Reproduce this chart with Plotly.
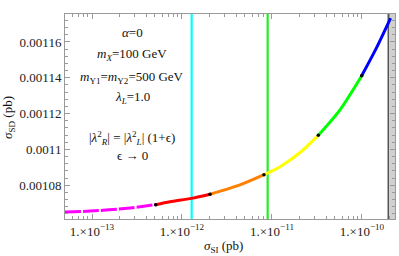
import plotly.graph_objects as go

# ---- data ----
sigma_si = [5.0e-14, 9.5e-14, 2.45e-13, 5.1e-13, 7.36e-13, 1.28e-12, 2.05e-12,
            4.41e-12, 8.15e-12, 1.23e-11, 2.05e-11, 3.27e-11, 5.7e-11, 9.93e-11,
            1.43e-10, 2.08e-10]
sigma_sd = [0.0010651, 0.0010656, 0.0010672, 0.0010692, 0.0010708, 0.0010727,
            0.0010750, 0.0010802, 0.0010859, 0.0010904, 0.0010983, 0.0011079,
            0.0011221, 0.0011411, 0.0011561, 0.0011733]
# segment boundaries (indices into the arrays) and colours
seg_bounds = [0, 3, 6, 8, 11, 13, 15]
seg_colors = ["#FF00FF", "#FF0000", "#FF8000", "#FFFF00", "#00FF00", "#0000FF"]
dot_idx = [3, 6, 8, 11, 13]

cyan_line_x = 1.28e-12
green_line_x = 8.95e-12
excluded_from = 1.96e-10
excluded_to = 1e-9

x_tickvals = [1e-13, 1e-12, 1e-11, 1e-10]
x_ticktext = ["1.×10<sup>−13</sup>", "1.×10<sup>−12</sup>", "1.×10<sup>−11</sup>", "1.×10<sup>−10</sup>"]
y_tickvals = [0.00108, 0.0011, 0.00112, 0.00114, 0.00116]
y_ticktext = ["0.00108", "0.0011", "0.00112", "0.00114", "0.00116"]

x_range_log = [-13.3, -9.633]
y_range = [0.0010612, 0.0011756]

FONT = "Liberation Serif, Times New Roman, serif"
FRAME = "#9a9a9a"

fig = go.Figure()

# excluded region (gray band)
fig.add_trace(go.Scatter(
    x=[excluded_from, excluded_to, excluded_to, excluded_from, excluded_from],
    y=[y_range[0] - 1e-5, y_range[0] - 1e-5, y_range[1] + 1e-5, y_range[1] + 1e-5, y_range[0] - 1e-5],
    fill="toself", fillcolor="#d0d0d0", mode="lines",
    line=dict(color="#d0d0d0", width=0), showlegend=False, hoverinfo="skip"))
fig.add_trace(go.Scatter(
    x=[excluded_from, excluded_from], y=[y_range[0] - 1e-5, y_range[1] + 1e-5],
    mode="lines", line=dict(color="#555555", width=1.5), showlegend=False))

# vertical lines
fig.add_trace(go.Scatter(x=[cyan_line_x, cyan_line_x], y=[y_range[0] - 1e-5, y_range[1] + 1e-5],
                         mode="lines", line=dict(color="#00FFFF", width=2.2), showlegend=False))
fig.add_trace(go.Scatter(x=[green_line_x, green_line_x], y=[y_range[0] - 1e-5, y_range[1] + 1e-5],
                         mode="lines", line=dict(color="#22EE22", width=2.2), showlegend=False))

# coloured curve segments
for i, col in enumerate(seg_colors):
    a, b = seg_bounds[i], seg_bounds[i + 1]
    fig.add_trace(go.Scatter(
        x=sigma_si[a:b + 1], y=sigma_sd[a:b + 1], mode="lines",
        line=dict(color=col, width=3, shape="spline", smoothing=0.8,
                  dash="16px,2px" if i == 0 else "solid"),
        showlegend=False))

# black dots at segment joints
fig.add_trace(go.Scatter(x=[sigma_si[i] for i in dot_idx], y=[sigma_sd[i] for i in dot_idx],
                         mode="markers", marker=dict(color="black", size=3.5, symbol="circle"),
                         showlegend=False))

axis_common = dict(showline=True, linecolor=FRAME, linewidth=1, mirror="ticks",
                   ticks="inside", tickcolor=FRAME, ticklen=5, showgrid=False, zeroline=False,
                   tickfont=dict(family=FONT, size=13, color="#222"))

fig.update_xaxes(type="log", range=x_range_log, tickvals=x_tickvals, ticktext=x_ticktext,
                 minor=dict(ticks="inside", ticklen=3, tickcolor=FRAME, dtick="D1", showgrid=False),
                 **axis_common)
fig.update_yaxes(range=y_range, tickvals=y_tickvals, ticktext=y_ticktext,
                 minor=dict(ticks="inside", ticklen=3, tickcolor=FRAME, tick0=0, dtick=0.000004,
                            showgrid=False),
                 **axis_common)

ann_font = dict(family=FONT, size=13, color="#111")
texts = [
    ("<i>α</i>=0", 33),
    ("<i>m</i><sub><i>X</i></sub>=100 GeV", 55),
    ("<i>m</i><sub>Y1</sub>=<i>m</i><sub>Y2</sub>=500 GeV", 77),
    ("<i>λ</i><sub><i>L</i></sub>=1.0", 97),
    ("|<i>λ</i><sup>2</sup><sub><i>R</i></sub>| = |<i>λ</i><sup>2</sup><sub><i>L</i></sub>| (1+ϵ)", 138),
    ("ϵ → 0", 155),
]
for t, ypx in texts:
    fig.add_annotation(text=t, xref="paper", yref="paper",
                       x=(132 - 65) / 330, y=(219 - ypx) / 205,
                       showarrow=False, font=ann_font, xanchor="center", yanchor="middle")

fig.add_annotation(text="<i>σ</i><sub>SI</sub> (pb)", xref="paper", yref="paper",
                   x=(223 - 65) / 330, y=(219 - 246) / 205, showarrow=False,
                   font=dict(family=FONT, size=13, color="#111"), xanchor="center", yanchor="middle")
fig.add_annotation(text="<i>σ</i><sub>SD</sub> (pb)", xref="paper", yref="paper",
                   x=(8 - 65) / 330, y=(219 - 118) / 205, showarrow=False, textangle=-90,
                   font=dict(family=FONT, size=13, color="#111"), xanchor="center", yanchor="middle")

fig.update_layout(width=399, height=256, margin=dict(l=65, r=4, t=14, b=37),
                  paper_bgcolor="white", plot_bgcolor="white")

fig.write_html("out.html", config={"displayModeBar": False},
               post_script="document.body.style.margin='0';document.body.style.padding='0';")
